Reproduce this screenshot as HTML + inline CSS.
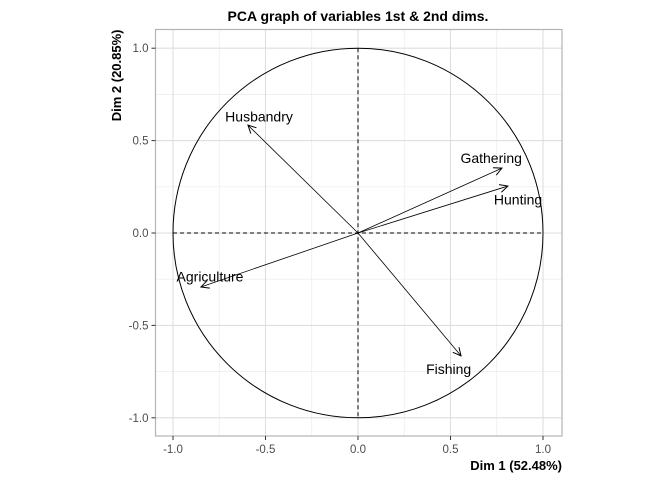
<!DOCTYPE html>
<html><head><meta charset="utf-8"><style>
body{margin:0;background:#fff;}
svg{display:block;font-family:"Liberation Sans",Arial,sans-serif;}
</style></head><body>
<svg id="chart" width="672" height="480" xmlns="http://www.w3.org/2000/svg"></svg>
<script>
const variables=["Husbandry","Gathering","Hunting","Agriculture","Fishing"];
const dim1=[-0.595,0.778,0.81,-0.849,0.557];
const dim2=[0.584,0.351,0.254,-0.292,-0.665];
const labelDim1=[-0.535,0.72,0.865,-0.8,0.49];
const labelDim2=[0.63,0.405,0.18,-0.235,-0.735];
const tickValues=[-1,-0.5,0,0.5,1];
const tickLabels=["-1.0","-0.5","0.0","0.5","1.0"];
const minorValues=[-0.75,-0.25,0.25,0.75];

const L=155.5,R=562,T=29.5,B=436;
const sx=v=>358+v*185;
const sy=v=>233+v*-184.8;
const svg=document.getElementById('chart');
const NS="http://www.w3.org/2000/svg";
function mk(t,a,p){const e=document.createElementNS(NS,t);for(const k in a)e.setAttribute(k,a[k]);(p||svg).appendChild(e);return e;}
const defs=mk('defs',{});
const m=mk('marker',{id:'ah',markerWidth:'10',markerHeight:'10',refX:'9',refY:'5',orient:'auto',markerUnits:'userSpaceOnUse'},defs);
mk('path',{d:'M1,1 L9,5 L1,9',fill:'none',stroke:'#000','stroke-width':'1'},m);

const grid=mk('g',{});


minorValues.forEach(v=>{
  mk('line',{x1:sx(v),x2:sx(v),y1:T,y2:B,stroke:'#ebebeb','stroke-width':'0.7'},grid);
  mk('line',{x1:L,x2:R,y1:sy(v),y2:sy(v),stroke:'#ebebeb','stroke-width':'0.7'},grid);
});
tickValues.forEach(v=>{
  mk('line',{x1:sx(v),x2:sx(v),y1:T,y2:B,stroke:'#dedede','stroke-width':'1.1'},grid);
  mk('line',{x1:L,x2:R,y1:sy(v),y2:sy(v),stroke:'#dedede','stroke-width':'1.1'},grid);
});
const panel=mk('rect',{x:L,y:T,width:R-L,height:B-T,fill:'none',stroke:'#b3b3b3','stroke-width':'1.2'});



const circ=mk('ellipse',{cx:sx(0),cy:sy(0),rx:sx(1)-sx(0),ry:sy(0)-sy(1),fill:'none',stroke:'#000','stroke-width':'1'});


const hl=mk('line',{x1:sx(-1),x2:sx(1),y1:sy(0),y2:sy(0),stroke:'#000','stroke-dasharray':'4,3'});


const vl=mk('line',{x1:sx(0),x2:sx(0),y1:sy(1),y2:sy(-1),stroke:'#000','stroke-dasharray':'4,3'});



variables.forEach((n,i)=>{
  const a=mk('line',{x1:sx(0),y1:sy(0),x2:sx(dim1[i]),y2:sy(dim2[i]),stroke:'#000','stroke-width':'0.8','marker-end':'url(#ah)'});
  
  
  const t=mk('text',{x:sx(labelDim1[i]),y:sy(labelDim2[i])+5,'text-anchor':'middle','font-size':'14',fill:'#000'});
  t.textContent=n;
  
  
});

tickValues.forEach((v,i)=>{
  mk('line',{x1:sx(v),x2:sx(v),y1:B,y2:B+4,stroke:'#333'});
  const tx=mk('text',{x:sx(v),y:B+17,'text-anchor':'middle','font-size':'11.5',fill:'#4d4d4d'});
  tx.textContent=tickLabels[i];
  
  
  mk('line',{x1:L-4,x2:L,y1:sy(v),y2:sy(v),stroke:'#333'});
  const ty=mk('text',{x:L-7,y:sy(v)+4,'text-anchor':'end','font-size':'11.5',fill:'#4d4d4d'});
  ty.textContent=tickLabels[i];
  
  
});
</script>
<script>
(function(){
const svg=document.getElementById('chart');const NS="http://www.w3.org/2000/svg";
function t(txt,a,name){const e=document.createElementNS(NS,'text');for(const k in a)e.setAttribute(k,a[k]);e.textContent=txt;


svg.appendChild(e);}
t('PCA graph of variables 1st & 2nd dims.',{x:358,y:21,'text-anchor':'middle','font-size':'14','font-weight':'bold'},'chart-title');
t('Dim 1 (52.48%)',{x:562,y:470,'text-anchor':'end','font-size':'13','font-weight':'bold'},'x-axis-title');
t('Dim 2 (20.85%)',{x:0,y:0,'text-anchor':'end','font-size':'13','font-weight':'bold',transform:'translate(121,29.5) rotate(-90)'},'y-axis-title');
})();
</script>
</body></html>
